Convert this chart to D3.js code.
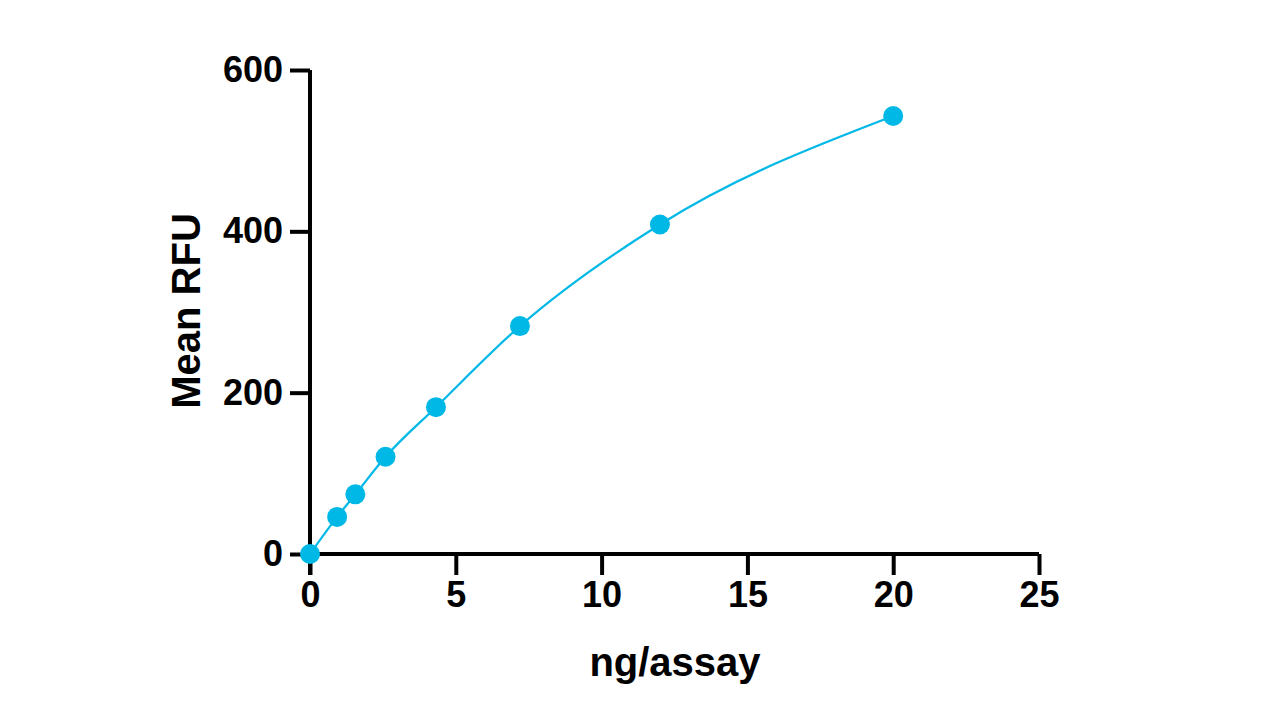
<!DOCTYPE html>
<html>
<head>
<meta charset="utf-8">
<script src="https://cdn.jsdelivr.net/npm/d3@7"></script>
<style>
  html, body { margin: 0; padding: 0; background: #fff; }
  svg { display: block; }
</style>
</head>
<body>
<svg id="chart" width="1280" height="720"></svg>
<script>
// Data
const concentration = [0, 0.93, 1.555, 2.59, 4.32, 7.2, 12, 20];   // ng/assay
const meanRFU       = [0, 46, 74, 120.5, 182, 282.5, 408.5, 543];
const xTicks = [0, 5, 10, 15, 20, 25];
const yTicks = [0, 200, 400, 600];
const xLabel = "ng/assay";
const yLabel = "Mean RFU";

const svg = d3.select("#chart");
const color = "#00b8e6";
const font = "'Liberation Sans', Arial, Helvetica, sans-serif";

const x = d3.scaleLinear().domain([0, 25]).range([310, 1039]);
const y = d3.scaleLinear().domain([0, 600]).range([554, 70]);

// Axes
const xAxis = svg.append("g")
  .attr("transform", `translate(0,${y(0)})`)
  .call(d3.axisBottom(x).tickValues(xTicks).tickSize(21).tickPadding(6).tickSizeOuter(0));
const yAxis = svg.append("g")
  .attr("transform", `translate(${x(0)},0)`)
  .call(d3.axisLeft(y).tickValues(yTicks).tickSize(20).tickPadding(7).tickSizeOuter(0));

[xAxis, yAxis].forEach(g => {
  g.attr("font-family", font).attr("font-size", 36).attr("font-weight", "bold");
  g.select(".domain").attr("stroke", "#000").attr("stroke-width", 4);
  g.selectAll(".tick line").attr("stroke", "#000").attr("stroke-width", 4);
  g.selectAll(".tick text").attr("fill", "#000");
});
xAxis.select(".domain").attr("d", `M${x(0)},0H${x(25)}`);
yAxis.select(".domain").attr("d", `M0,${y(0) + 21}V${y(600)}`);

// Axis titles
svg.append("text")
  .attr("x", 675).attr("y", 676)
  .attr("text-anchor", "middle")
  .attr("font-family", font)
  .attr("font-weight", "bold").attr("font-size", 40)
  .text(xLabel);
svg.append("text")
  .attr("transform", "translate(200,311) rotate(-90)")
  .attr("text-anchor", "middle")
  .attr("font-family", font)
  .attr("font-weight", "bold").attr("font-size", 40)
  .text(yLabel);

// Data
const data = concentration.map((c, i) => ({ c, r: meanRFU[i] }));

svg.append("path")
  .datum(data)
  .attr("fill", "none")
  .attr("stroke", color)
  .attr("stroke-width", 2.2)
  .attr("d", d3.line().x(d => x(d.c)).y(d => y(d.r)).curve(d3.curveMonotoneX));

svg.append("g").selectAll("circle")
  .data(data)
  .join("circle")
  .attr("cx", d => x(d.c))
  .attr("cy", d => y(d.r))
  .attr("r", 10)
  .attr("fill", color);
</script>
</body>
</html>
